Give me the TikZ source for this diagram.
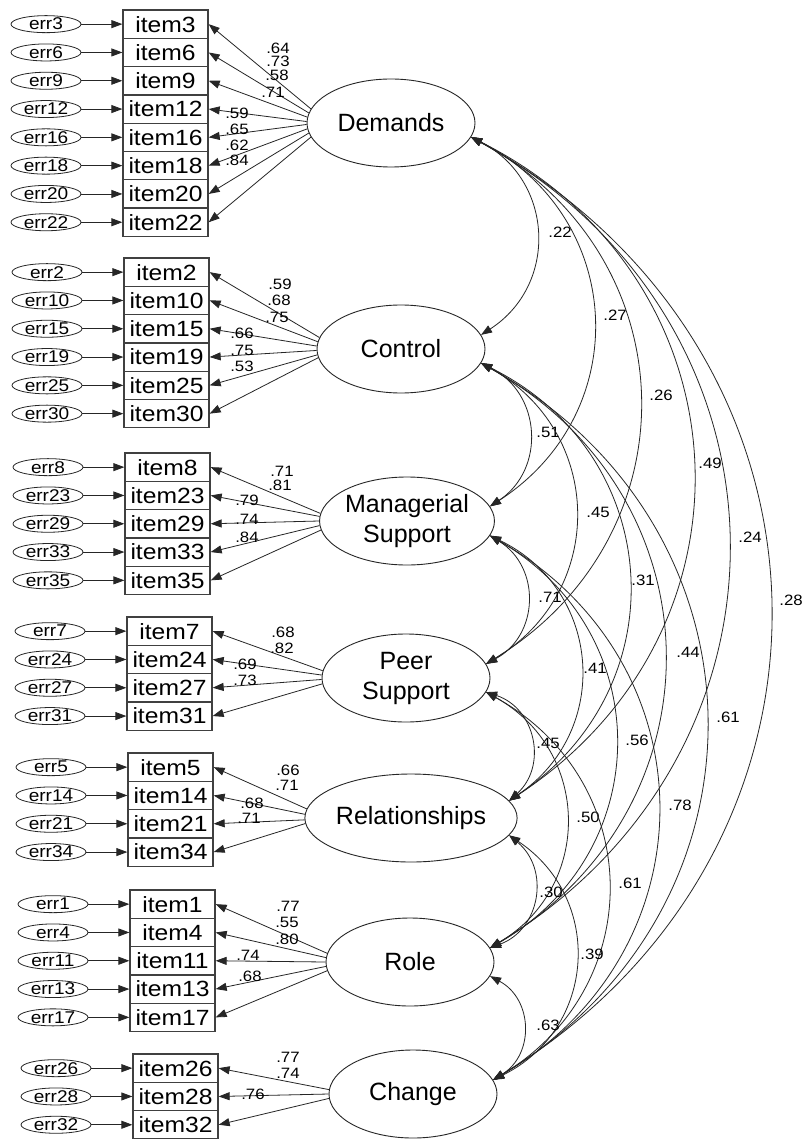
\documentclass[tikz,border=0pt]{standalone}
\usepackage{fontspec}
\usetikzlibrary{shapes.geometric,arrows.meta}
\newfontfamily\semfont{Liberation Sans}[FakeStretch=1.12]
\newfontfamily\latfont{Liberation Sans}
\begin{document}
\begin{tikzpicture}[x=1pt,y=1pt,
  >={Triangle[length=11pt,width=8pt]},
  ln/.style={draw=black!85, line width=0.8pt},
  itembox/.style={rectangle, draw=black!75, line width=1.3pt, minimum width=85pt, minimum height=28.3pt, inner sep=0pt, font=\semfont\fontsize{22}{22}\selectfont},
  errell/.style={ellipse, draw=black!85, line width=0.8pt, minimum width=70pt, minimum height=17pt, inner sep=0pt, font=\semfont\fontsize{17}{17}\selectfont},
  latent/.style={ellipse, draw=black!85, line width=0.9pt, minimum width=168pt, minimum height=88pt, inner sep=0pt, align=center, font=\latfont\fontsize{25}{30}\selectfont},
  lab/.style={inner sep=0pt, font=\semfont\fontsize{15}{15}\selectfont}
]
\path[use as bounding box, fill=white] (0,0) rectangle (801,-1139);

% latent variables
\node[latent] (dem)  at (391,-123)  {Demands};
\node[latent] (con)  at (401,-349)  {Control};
\node[latent] (man)  at (407,-521)  {Managerial\\Support};
\node[latent] (peer) at (406,-678)  {Peer\\Support};
\node[latent] (rel)  at (411,-818)  {Relationships};
\node[latent] (role) at (410,-962)  {Role};
\node[latent] (chg)  at (413,-1094) {Change};

% items, errors, loadings
\foreach \lat/\ly/\bx/\by/\items in {
  dem/123/123/10/{3,6,9,12,16,18,20,22},
  con/349/124/258/{2,10,15,19,25,30},
  man/521/125/453/{8,23,29,33,35},
  peer/678/127/617/{7,24,27,31},
  rel/818/128/753/{5,14,21,34},
  role/962/130/890/{1,4,11,13,17},
  chg/1094/133/1054/{26,28,32}}{
  \foreach \it [count=\k from 0] in \items {
    \pgfmathsetmacro\yy{\by+14.15+28.3*\k}
    \pgfmathtruncatemacro\ang{round(180-0.1*(\ly-\yy))}
    \node[itembox] (i\it) at (\bx+42.5,-\yy) {item\it};
    \node[errell] (e\it) at (\bx-77,-\yy) {err\it};
    \draw[ln,->] (e\it) -- (i\it);
    \draw[ln,->] (\lat.\ang) -- (i\it.east);
  }
}

% loading labels
\foreach \v/\px/\py [count=\n] in {
  .64/278/48, .73/278/61, .58/277/75, .71/273/92, .59/237/113, .65/237/129, .62/237/145, .84/237/160,
  .59/280/284, .68/279/300, .75/277/317, .66/242/333, .75/242/350, .53/242/366,
  .71/282/471, .81/280/485, .79/247/500, .74/247/519, .84/247/537,
  .68/283/632, .82/282/648, .69/245/664, .73/245/680,
  .66/288/770, .71/287/785, .68/252/803, .71/249/818,
  .77/288/906, .55/287/922, .80/287/939, .74/248/955, .68/250/976,
  .77/288/1057, .74/288/1073, .76/253/1094}{
  \node[lab] (ld\n) at (\px,-\py) {\v};
}

% covariances
\foreach \a/\b/\v/\px/\py in {
  dem/con/.22/560/232, dem/man/.27/615/315, dem/peer/.26/661/395,
  dem/rel/.49/710/463, dem/role/.24/750/537, dem/chg/.28/791/600,
  con/man/.51/548/432, con/peer/.45/598/512, con/rel/.31/643/580,
  con/role/.44/688/652, con/chg/.61/728/717,
  man/peer/.71/550/597, man/rel/.41/595/668, man/role/.56/637/740, man/chg/.78/680/805,
  peer/rel/.45/548/743, peer/role/.50/588/817, peer/chg/.61/630/883,
  rel/role/.30/551/892, rel/chg/.39/592/954,
  role/chg/.63/548/1025}{
  \draw[ln,<->] (\a.350) to[bend left=60, looseness=1.2] (\b.10);
  \node[lab] (cv\a\b) at (\px,-\py) {\v};
}
\end{tikzpicture}
\end{document}
